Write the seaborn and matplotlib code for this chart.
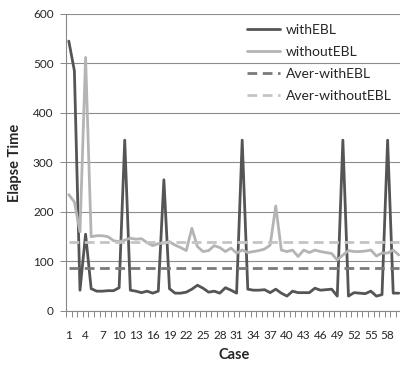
import numpy as np
import pandas as pd
import seaborn as sns
import matplotlib.pyplot as plt

# values
cases = list(range(1, 61))
with_ebl = [545, 485, 42, 155, 45, 40, 40, 41, 41, 47,
            345, 42, 40, 37, 40, 36, 40, 265, 45, 36,
            36, 38, 44, 52, 46, 38, 40, 36, 47, 42,
            36, 345, 44, 42, 42, 43, 37, 44, 36, 30,
            40, 37, 37, 37, 46, 42, 43, 44, 30, 345,
            30, 37, 36, 35, 40, 30, 33, 345, 36, 36]
without_ebl = [235, 220, 160, 512, 150, 152, 152, 150, 142, 140,
               143, 147, 145, 146, 138, 132, 136, 137, 140, 133,
               128, 122, 167, 130, 120, 122, 132, 128, 120, 127,
               117, 123, 118, 120, 122, 125, 133, 212, 123, 120,
               123, 110, 123, 118, 123, 120, 118, 116, 103, 113,
               122, 120, 120, 121, 123, 111, 117, 117, 123, 113]
aver_with = 87
aver_without = 139
tick_cases = list(range(1, 61, 3))

df = pd.DataFrame({'Case': cases, 'withEBL': with_ebl, 'withoutEBL': without_ebl})
df['Aver-withEBL'] = aver_with
df['Aver-withoutEBL'] = aver_without
long = df.melt(id_vars='Case', var_name='series', value_name='Elapse Time')

sns.set_style('white')
plt.rcParams['font.family'] = ['Lato', 'DejaVu Sans']

fig = plt.figure(figsize=(4.0, 3.65), dpi=100)
ax = fig.add_axes([0.165, 0.148, 0.839, 0.814])

palette = {'withEBL': '#555555', 'withoutEBL': '#b4b4b4',
           'Aver-withEBL': '#7a7a7a', 'Aver-withoutEBL': '#c4c4c4'}
dashes = {'withEBL': '', 'withoutEBL': '', 'Aver-withEBL': (3.5, 2), 'Aver-withoutEBL': (3.5, 2)}
sns.lineplot(data=long, x='Case', y='Elapse Time', hue='series', style='series',
             palette=palette, dashes=dashes, linewidth=2.0, ax=ax, legend=True)

ax.set_xlim(0.5, 60.5)
ax.set_ylim(0, 600)
ax.set_yticks(range(0, 601, 100))
ax.yaxis.grid(True, color='#8c8c8c', linewidth=0.8)
ax.set_axisbelow(True)

ax.set_xticks(np.arange(0.5, 61, 1))
ax.set_xticklabels([])
ax.set_xticks(tick_cases, minor=True)
ax.set_xticklabels([str(c) for c in tick_cases], minor=True, fontsize=8.5)
ax.tick_params(axis='x', which='major', length=4, width=0.7, color='#888888', direction='out', bottom=True)
ax.tick_params(axis='x', which='minor', length=0, pad=14)
ax.tick_params(axis='y', length=4, width=0.7, color='#888888', direction='out', left=True, labelsize=8.5, pad=5)

for s in ['top', 'right']:
    ax.spines[s].set_visible(False)
for s in ['left', 'bottom']:
    ax.spines[s].set_color('#888888')
    ax.spines[s].set_linewidth(0.8)

ax.set_xlabel('Case', fontsize=10.5, fontweight='bold', labelpad=5)
ax.set_ylabel('Elapse Time', fontsize=10.5, fontweight='bold', labelpad=8)

leg = ax.legend(loc='upper right', bbox_to_anchor=(0.995, 0.995), borderaxespad=0.2, frameon=False,
                fontsize=10, handlelength=2.4, labelspacing=0.72, handletextpad=0.4, title=None)
for line in leg.get_lines():
    line.set_linewidth(2.0)

fig.savefig('out.png', dpi=100)
